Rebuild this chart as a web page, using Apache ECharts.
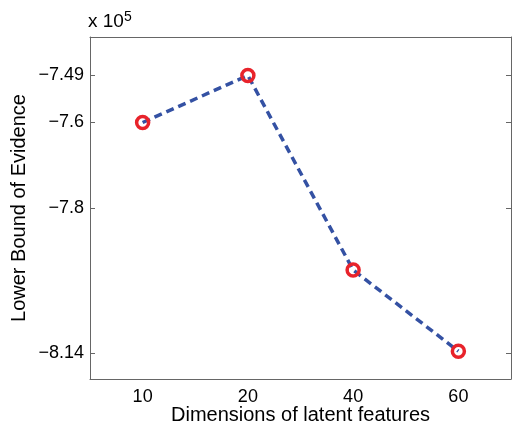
<!DOCTYPE html>
<html>
<head>
<meta charset="utf-8">
<script src="https://cdn.jsdelivr.net/npm/echarts@6/dist/echarts.min.js"></script>
<style>html,body{margin:0;padding:0;background:#fff;}#c{width:512px;height:424px;}</style>
</head>
<body>
<div id="c"></div>
<script>
const categories = ['10', '20', '40', '60'];
const lowerBound = [-7.6, -7.49, -7.945, -8.135];
const yTickValues = [-7.49, -7.6, -7.8, -8.14];
const xTitle = 'Dimensions of latent features';
const yTitle = 'Lower Bound of Evidence';

const FONT = '"Liberation Sans", Arial, Helvetica, sans-serif';
const AX = '#666';
const fmt = v => (v < 0 ? '\u2212' : '') + String(Math.abs(+v.toFixed(2)));

const chart = echarts.init(document.getElementById('c'), null, {renderer: 'canvas'});
chart.setOption({
  animation: false,
  backgroundColor: '#fff',
  grid: {left: 90, top: 37, right: 1, bottom: 45, containLabel: false, outerBoundsMode: 'none'},
  graphic: [{
    type: 'text', left: 88, top: 10,
    style: {
      text: 'x 10{s|5}',
      font: '19px ' + FONT, fill: '#000',
      rich: {s: {fontSize: 14, fontFamily: FONT, fill: '#000', verticalAlign: 'top', padding: [0, 0, 10, 0]}}
    }
  }],
  xAxis: [{
    type: 'category', data: categories, position: 'bottom', boundaryGap: true,
    axisLine: {lineStyle: {color: AX, width: 1}},
    axisTick: {inside: true, length: 5, alignWithLabel: true, lineStyle: {color: AX}},
    axisLabel: {fontSize: 18, fontFamily: FONT, color: '#000', margin: 9},
    name: xTitle, nameLocation: 'middle', nameGap: 26, nameMoveOverlap: false,
    nameTextStyle: {fontSize: 20, fontFamily: FONT, color: '#000', lineHeight: 20, verticalAlign: 'top'}
  }, {
    type: 'category', data: categories, position: 'top', boundaryGap: true,
    axisLine: {lineStyle: {color: AX, width: 1}},
    axisTick: {inside: true, length: 5, alignWithLabel: true, lineStyle: {color: AX}},
    axisLabel: {show: false}
  }],
  yAxis: [{
    type: 'value', min: -8.2, max: -7.4, position: 'left',
    axisLine: {show: true, lineStyle: {color: AX, width: 1}},
    axisTick: {show: true, inside: true, length: 5, customValues: yTickValues, lineStyle: {color: AX}},
    axisLabel: {customValues: yTickValues, formatter: v => fmt(v), fontSize: 18, fontFamily: FONT, color: '#000', margin: 6},
    splitLine: {show: false},
    name: yTitle, nameLocation: 'middle', nameGap: 61, nameRotate: 90, nameMoveOverlap: false,
    nameTextStyle: {fontSize: 20, fontFamily: FONT, color: '#000'}
  }, {
    type: 'value', min: -8.2, max: -7.4, position: 'right',
    axisLine: {show: true, lineStyle: {color: AX, width: 1}},
    axisTick: {show: true, inside: true, length: 5, customValues: yTickValues, lineStyle: {color: AX}},
    axisLabel: {show: false},
    splitLine: {show: false}
  }],
  series: [{
    type: 'line', data: lowerBound, xAxisIndex: 0, yAxisIndex: 0,
    lineStyle: {color: '#3451a3', width: 3.5, type: [8, 5]},
    symbol: 'circle', symbolSize: 12,
    itemStyle: {color: 'rgba(0,0,0,0)', borderColor: '#e8232b', borderWidth: 3.5},
    z: 3
  }]
});
</script>
</body>
</html>
